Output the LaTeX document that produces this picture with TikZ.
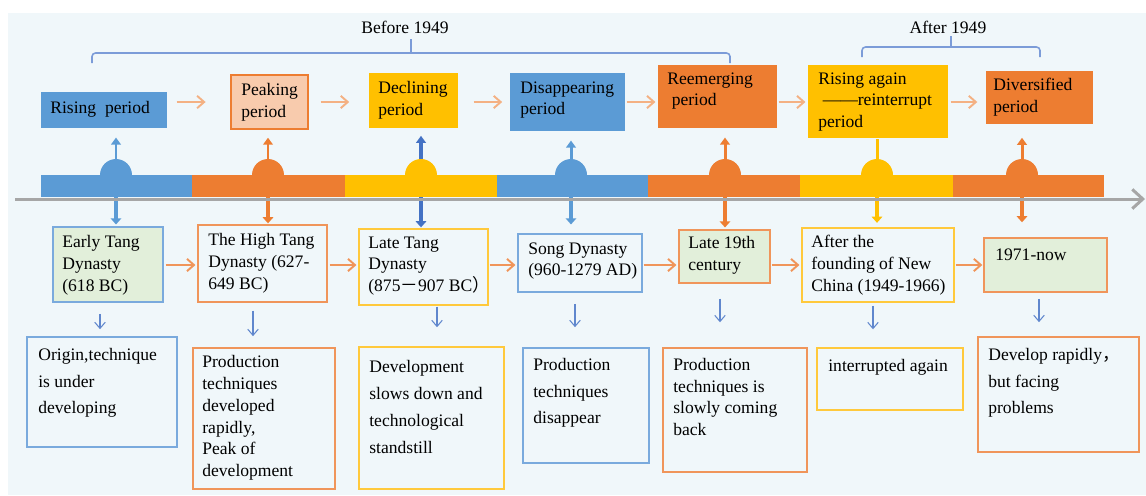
\documentclass[tikz,border=0pt]{standalone}
\usepackage{fontspec}
\setmainfont{Liberation Serif}
\newfontfamily\cjk{Noto Sans CJK SC}
\usetikzlibrary{arrows.meta, fit}

\definecolor{barblue}{HTML}{5B9BD5}
\definecolor{barorange}{HTML}{ED7D31}
\definecolor{baryellow}{HTML}{FFC000}
\definecolor{darkblue}{HTML}{4472C4}
\definecolor{peach}{HTML}{F8CBAD}
\definecolor{palegreen}{HTML}{E2EFDA}
\definecolor{paper}{HTML}{F0F7FA}
\definecolor{lightorange}{HTML}{F4B183}
\definecolor{edgeblue}{HTML}{7AAADD}
\definecolor{edgeorange}{HTML}{F0955A}
\definecolor{edgeyellow}{HTML}{FFC93C}
\definecolor{bracecol}{HTML}{7C9CD8}
\definecolor{axisgrey}{HTML}{A6A6A6}

\tikzset{
  box/.style={inner sep=0pt, line width=0.9pt},
  txt/.style={inner sep=0pt, align=left, anchor=west, font=\fontsize{10}{12.4}\selectfont},
  widetxt/.style={txt, font=\fontsize{10}{15.2}\selectfont},
  dome/.style={circle, inner sep=0pt, minimum size=0.64cm},
  seg/.style={inner sep=0pt},
  uparr/.style={line width=1.7pt, -{Triangle[width=5.5pt,length=4pt]}},
  downarr/.style={line width=2.3pt, -{Triangle[width=6pt,length=3.5pt]}},
  periodarr/.style={lightorange, line width=1.1pt, -{Straight Barb[length=4pt,width=7pt]}},
  stagearr/.style={edgeorange, line width=1.1pt, -{Straight Barb[length=4pt,width=7pt]}},
  notearr/.style={darkblue!85, line width=0.6pt, -{Straight Barb[length=3.5pt,width=6pt]}},
  brace/.style={bracecol, line width=0.9pt, rounded corners=2pt}
}

\begin{document}
\begin{tikzpicture}[x=0.02cm, y=-0.02cm]
  % Background
  \useasboundingbox (0,0) rectangle (1146,495);
  \fill[paper] (8,13) rectangle (1146,495);

  % Era brackets
  \node[txt, anchor=center] (before) at (405,27) {Before 1949};
  \node[txt, anchor=center] (after) at (948,27) {After 1949};
  \draw[brace] (92,63) -- (92,53) -- (730,53) -- (730,63);
  \draw[brace] (411,53) -- (411,39);
  \draw[brace] (862,57) -- (862,47) -- (1040,47) -- (1040,57);
  \draw[brace] (951,47) -- (951,36);

  % Period boxes
  \node[box, fill=barblue, fit={(41,92) (167,128)}] (rise) {};
  \node[box, draw=barorange, fill=peach, fit={(231,75) (308,129)}] (peak) {};
  \node[box, fill=baryellow, fit={(369,73) (458,128)}] (decline) {};
  \node[box, fill=barblue, fit={(510,73) (625,131)}] (vanish) {};
  \node[box, fill=barorange, fit={(658,65) (777,128)}] (reemerge) {};
  \node[box, fill=baryellow, fit={(808,65) (948,138)}] (again) {};
  \node[box, fill=barorange, fit={(986,71) (1093,124)}] (diverse) {};

  \node[txt] (risetxt) at (50,109) {Rising\ \ period};
  \node[txt] (peaktxt) at (241,102) {Peaking\\period};
  \node[txt] (declinetxt) at (378,100) {Declining\\period};
  \node[txt] (vanishtxt) at (520,100) {Disappearing\\period};
  \node[txt] (reemergetxt) at (667,91) {Reemerging\\\hspace*{2.5pt}period};
  \node[txt] (againtxt) at (818,102) {Rising again\\\hspace*{2.5pt}——reinterrupt\\period};
  \node[txt] (diversetxt) at (993,97) {Diversified\\period};

  \draw[periodarr, shorten <=5pt, shorten >=14pt] (rise.east |- 0,102) -- (peak.west |- 0,102);
  \draw[periodarr, shorten <=6.8pt, shorten >=10.8pt] (peak.east |- 0,102) -- (decline.west |- 0,102);
  \draw[periodarr, shorten <=8.5pt, shorten >=4pt] (decline.east |- 0,102) -- (vanish.west |- 0,102);
  \draw[periodarr, shorten <=0.5pt, shorten >=1pt] (vanish.east |- 0,102) -- (reemerge.west |- 0,102);
  \draw[periodarr, shorten <=0.5pt, shorten >=1pt] (reemerge.east |- 0,102) -- (again.west |- 0,102);
  \draw[periodarr, shorten <=1pt, shorten >=4.5pt] (again.east |- 0,102) -- (diverse.west |- 0,102);

  % Timeline bar
  \node[dome, fill=barblue] (d1) at (116,175) {};
  \node[dome, fill=barorange] (d2) at (268,175) {};
  \node[dome, fill=baryellow] (d3) at (421,175) {};
  \node[dome, fill=barblue] (d4) at (571,175) {};
  \node[dome, fill=barorange] (d5) at (725,175) {};
  \node[dome, fill=baryellow] (d6) at (877,175) {};
  \node[dome, fill=barorange] (d7) at (1022,175) {};

  \node[seg, fill=barblue, fit={(41,175) (192,197)}] (s1) {};
  \node[seg, fill=barorange, fit={(192,175) (345,197)}] (s2) {};
  \node[seg, fill=baryellow, fit={(345,175) (497,197)}] (s3) {};
  \node[seg, fill=barblue, fit={(497,175) (648,197)}] (s4) {};
  \node[seg, fill=barorange, fit={(648,175) (800,197)}] (s5) {};
  \node[seg, fill=baryellow, fit={(800,175) (953,197)}] (s6) {};
  \node[seg, fill=barorange, fit={(953,175) (1104,197)}] (s7) {};

  \draw[uparr, barblue, shorten >=5pt] (d1.north) -- (rise.south -| d1);
  \draw[uparr, barorange, shorten >=4.5pt] (d2.north) -- (peak.south -| d2);
  \draw[uparr, darkblue, line width=2.3pt, shorten >=4pt] (d3.north) -- (decline.south -| d3);
  \draw[uparr, barblue, shorten >=5pt] (d4.north) -- (vanish.south -| d4);
  \draw[uparr, barorange, shorten >=5pt] (d5.north) -- (reemerge.south -| d5);
  \draw[baryellow, line width=1.7pt] (d6.north) -- (again.south -| d6);
  \draw[uparr, barorange, shorten >=7.4pt] (d7.north) -- (diverse.south -| d7);

  % Stage boxes
  \node[box, draw=edgeblue, fill=palegreen, fit={(53,227) (163,302)}] (etang) {};
  \node[box, draw=edgeorange, fit={(198,225) (327,302)}] (htang) {};
  \node[box, draw=edgeyellow, fit={(359,229) (488,305)}] (ltang) {};
  \node[box, draw=edgeblue, fit={(518,234) (642,292)}] (song) {};
  \node[box, draw=edgeorange, fill=palegreen, fit={(679,230) (770,283)}] (late) {};
  \node[box, draw=edgeyellow, fit={(802,228) (954,302)}] (found) {};
  \node[box, draw=edgeorange, fill=palegreen, fit={(984,238) (1107,292)}] (now) {};

  \node[txt] (etangtxt) at (62,265) {Early Tang\\Dynasty\\(618 BC)};
  \node[txt] (htangtxt) at (208,263) {The High Tang\\Dynasty (627-\\649 BC)};
  \node[txt] (ltangtxt) at (368,266) {Late Tang\\Dynasty\\(875{\cjk －}907 BC{\cjk ）}};
  \node[txt] (songtxt) at (528,261) {Song Dynasty\\(960-1279 AD)};
  \node[txt] (latetxt) at (688,255) {Late 19th\\century};
  \node[txt] (foundtxt) at (811,265) {After the\\founding of New\\China (1949-1966)};
  \node[txt] (nowtxt) at (995,255) {1971-now};

  \draw[downarr, barblue, shorten >=1pt] (s1.south -| d1) -- (etang.north -| d1);
  \draw[downarr, barorange, shorten >=0.5pt] (s2.south -| d2) -- (htang.north -| d2);
  \draw[downarr, darkblue, shorten >=0.5pt] (s3.south -| d3) -- (ltang.north -| d3);
  \draw[downarr, barblue, shorten >=5pt] (s4.south -| d4) -- (song.north -| d4);
  \draw[downarr, barorange, shorten >=1pt] (s5.south -| d5) -- (late.north -| d5);
  \draw[downarr, baryellow, shorten >=2.5pt] (s6.south -| d6) -- (found.north -| d6);
  \draw[downarr, barorange, shorten >=8.5pt] (s7.south -| d7) -- (now.north -| d7);

  \draw[stagearr, shorten <=1pt, shorten >=1pt] (etang.east |- 0,265) -- (htang.west |- 0,265);
  \draw[stagearr, shorten <=1pt, shorten >=1pt] (htang.east |- 0,265) -- (ltang.west |- 0,265);
  \draw[stagearr, shorten <=0.5pt, shorten >=1pt] (ltang.east |- 0,265) -- (song.west |- 0,265);
  \draw[stagearr, shorten <=0.5pt, shorten >=1pt] (song.east |- 0,265) -- (late.west |- 0,265);
  \draw[stagearr, shorten <=0.5pt, shorten >=1pt] (late.east |- 0,265) -- (found.west |- 0,265);
  \draw[stagearr, shorten <=0.5pt, shorten >=0.5pt] (found.east |- 0,265) -- (now.west |- 0,265);

  % Axis
  \coordinate (axstart) at (15,199);
  \coordinate (axend) at (1145,199);
  \draw[axisgrey, line width=1.7pt, -{Straight Barb[length=6pt,width=11pt]}] (axstart) -- (axend);

  % Note boxes
  \node[box, draw=edgeblue, fit={(27,337) (177,447)}] (originnote) {};
  \node[box, draw=edgeorange, fit={(193,348) (335,489)}] (peaknote) {};
  \node[box, draw=edgeyellow, fit={(359,347) (504,489)}] (slownote) {};
  \node[box, draw=edgeblue, fit={(523,348) (649,463)}] (gonenote) {};
  \node[box, draw=edgeorange, fit={(663,348) (807,472)}] (backnote) {};
  \node[box, draw=edgeyellow, fit={(817,348) (963,410)}] (stopnote) {};
  \node[box, draw=edgeorange, fit={(978,337) (1139,452)}] (nownote) {};

  \node[widetxt] (origintxt) at (38,383) {Origin,technique\\is under\\developing};
  \node[txt] (peaknotetxt) at (202,418) {Production\\techniques\\developed\\rapidly,\\Peak of\\development};
  \node[widetxt] (slownotetxt) at (369,407) {Development\\slows down and\\technological\\standstill};
  \node[widetxt] (gonenotetxt) at (533,393) {Production\\techniques\\disappear};
  \node[txt] (backnotetxt) at (673,397) {Production\\techniques is\\slowly coming\\back};
  \node[txt] (stopnotetxt) at (828,367) {interrupted again};
  \node[widetxt] (nownotetxt) at (988,383) {Develop rapidly{\cjk ，}\\but facing\\problems};

  \draw[notearr, shorten <=6.3pt, shorten >=4pt] (etang.south -| 100,0) -- (originnote.north -| 100,0);
  \draw[notearr, shorten <=4.5pt, shorten >=6.3pt] (htang.south -| 253,0) -- (peaknote.north -| 253,0);
  \draw[notearr, shorten <=0.5pt, shorten >=10.8pt] (ltang.south -| 437,0) -- (slownote.north -| 437,0);
  \draw[notearr, shorten <=6.3pt, shorten >=11.4pt] (song.south -| 575,0) -- (gonenote.north -| 575,0);
  \draw[notearr, shorten <=8.5pt, shorten >=14.2pt] (late.south -| 720,0) -- (backnote.north -| 720,0);
  \draw[notearr, shorten <=1.7pt, shorten >=10.2pt] (found.south -| 873,0) -- (stopnote.north -| 873,0);
  \draw[notearr, shorten <=3.4pt, shorten >=8pt] (now.south -| 1039,0) -- (nownote.north -| 1039,0);
\end{tikzpicture}
\end{document}
